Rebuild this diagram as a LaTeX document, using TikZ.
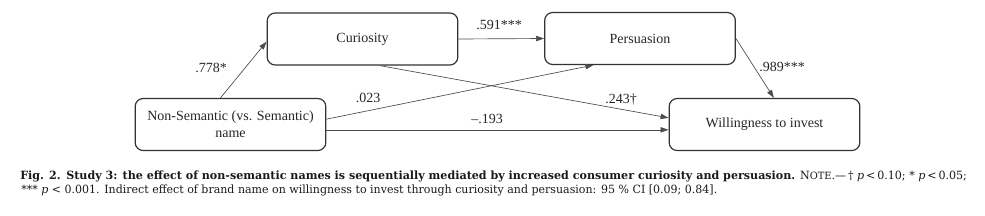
\documentclass[tikz,border=0pt]{standalone}
\usepackage{fontspec}
\usepackage{graphicx}
\setmainfont{Liberation Serif}
\newfontfamily\capfont{DejaVu Serif}
\usetikzlibrary{arrows.meta,positioning}

\tikzset{
  varbox/.style={draw=black!80, line width=0.9pt, rounded corners=6pt,
    minimum width=143pt, minimum height=39pt, align=center,
    text=black!85, font=\fontsize{10.5}{12.5}\selectfont},
  effect/.style={-{Triangle[length=6pt,width=4pt]}, draw=black!70, line width=0.5pt},
  coef/.style={text=black!85, inner sep=1pt, font=\fontsize{10.5}{12}\selectfont},
  captext/.style={anchor=base west, inner sep=0pt, text=black!90,
    font=\capfont\fontsize{8.5}{9}\selectfont}
}

\begin{document}
\begin{tikzpicture}[x=0.75pt, y=-0.75pt]
        \useasboundingbox (0,0) rectangle (985,215);

        % variables
        \node[varbox] (name) at (230.5,124.5) {Non-Semantic (vs. Semantic)\\name};
        \node[varbox] (cur)  at (362.5,39)    {Curiosity};
        \node[varbox] (pers) at (640,38.5)    {Persuasion};
        \node[varbox] (will) at (764.5,124.5) {Willingness to invest};

        % paths
        \draw[effect] ([xshift=-7.5pt]name.north) -- ([yshift=-2pt]cur.west);
        \draw[effect] (cur.east) -- (pers.west);
        \draw[effect] (pers.east) -- ([xshift=7pt]will.north);
        \draw[effect] ([yshift=4pt]name.east) -- ([xshift=-35pt]pers.south);
        \draw[effect] ([xshift=13pt]cur.south) -- ([yshift=5pt]will.west);
        \draw[effect] ([yshift=-4pt]name.east) -- ([yshift=-4pt]will.west);

        % coefficients
        \node[coef] (c1) at (211,68)  {.778*};
        \node[coef] (c2) at (499,25)  {.591***};
        \node[coef] (c3) at (782,67)  {.989***};
        \node[coef] (c4) at (368,98)  {.023};
        \node[coef] (c5) at (621,99)  {.243†};
        \node[coef] (c6) at (487,119) {–.193};

        % caption
        \node[captext] (cap1) at (20,179) {\resizebox{710pt}{\height}{\textbf{Fig. 2.\enspace Study 3: the effect of non-semantic names is sequentially mediated by increased consumer curiosity and persuasion.} N{\fontsize{7.5}{9}\selectfont OTE}.—\,† \textit{p}\,<\,0.10; * \textit{p}\,<\,0.05;}};
        \node[captext] (cap2) at (21,193) {\resizebox{522pt}{\height}{*** \textit{p} < 0.001. Indirect effect of brand name on willingness to invest through curiosity and persuasion: 95 \% CI [0.09; 0.84].}};
\end{tikzpicture}
\end{document}
